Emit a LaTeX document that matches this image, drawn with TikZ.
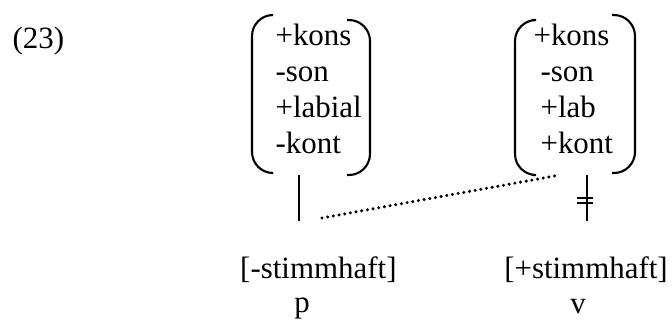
\documentclass[tikz,border=0pt]{standalone}
\usepackage{fontspec}
\setmainfont{Liberation Serif}
\usetikzlibrary{positioning,calc}

\begin{document}
\begin{tikzpicture}[
  feat/.style={anchor=base west, inner sep=0pt, font=\fontsize{11}{12.8}\selectfont},
  lab/.style={anchor=base, inner sep=0pt, font=\fontsize{11}{12.8}\selectfont},
  brack/.style={line width=0.75pt, rounded corners=7.5pt},
  assoc/.style={line width=0.75pt},
  spread/.style={line width=1.2pt, line cap=round, dash pattern=on 0pt off 2.05pt}
]
  \useasboundingbox (0,0) rectangle (8.4,4);

  % --- example number ---------------------------------------------------
  \node[lab, anchor=base west] (exnum) at (0.15,3.4) {(23)};

  % --- matrix for p -----------------------------------------------------
  \foreach \f/\i in {+kons/1,-son/2,+labial/3,-kont/4}
    \node[feat] (p\i) at (3.4375,{3.4375-0.45*(\i-1)}) {\f};
  \draw[brack] (3.4125,3.8125) -- (3.15,3.8125) -- (3.15,1.8375) -- (3.4125,1.8375);
  \draw[brack] (4.3375,3.75) -- (4.625,3.75) -- (4.625,1.8125) -- (4.3375,1.8125);

  % --- matrix for v -----------------------------------------------------
  \node[feat] (v1) at (6.6625,3.4375) {+kons};
  \foreach \f/\i in {-son/2,+lab/3,+kont/4}
    \node[feat] (v\i) at (6.75,{3.4375-0.45*(\i-1)}) {\f};
  \draw[brack] (6.65,3.75) -- (6.4375,3.75) -- (6.4375,1.8125) -- (6.65,1.8125);
  \draw[brack] (7.65,3.8125) -- (7.9375,3.8125) -- (7.9375,1.8375) -- (7.65,1.8375);

  % --- association lines ------------------------------------------------
  \coordinate (p-top) at (3.7375,1.8125);
  \coordinate (p-bot) at (3.7375,1.2375);
  \coordinate (v-top) at (7.3375,1.8125);
  \coordinate (v-bot) at (7.3375,1.2375);
  \draw[assoc] (p-top) -- (p-bot);
  \draw[assoc] (v-top) -- (v-bot);
  % delinked: two ticks across the line
  \foreach \y in {1.525,1.4625}
    \draw[assoc] (7.2125,\y) -- (7.4125,\y);

  % --- spreading of [+kont] ---------------------------------------------
  \coordinate (spread-start) at (4.025,1.275);
  \coordinate (spread-end) at (7.0,1.8125);
  \draw[spread] (spread-start) -- (spread-end);

  % --- voicing and segments ---------------------------------------------
  \node[lab] (voice-p) at (3.98,0.525) {[-stimmhaft]};
  \node[lab] (voice-v) at (7.325,0.525) {[+stimmhaft]};
  \node[lab] (seg-p) at (3.775,0.1) {p};
  \node[lab] (seg-v) at (7.225,0.0875) {v};
\end{tikzpicture}
\end{document}
